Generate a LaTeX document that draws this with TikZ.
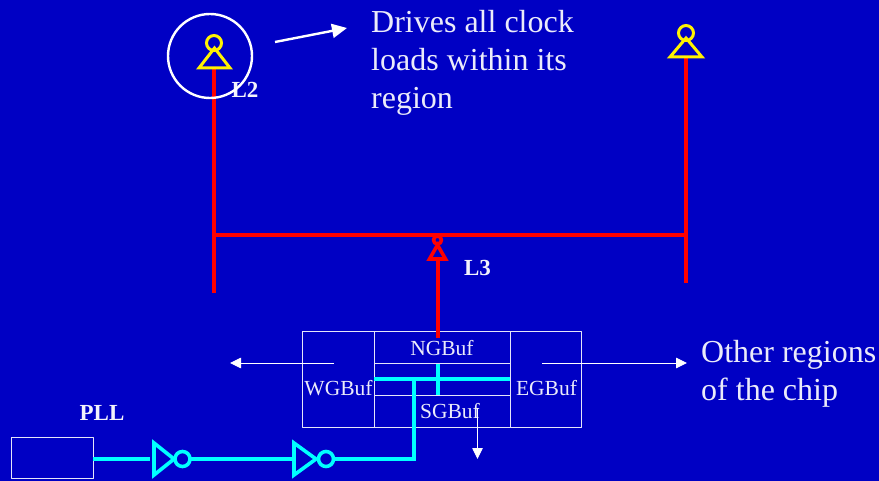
\documentclass[tikz,border=0pt]{standalone}
\usepackage{fontspec}
\setmainfont{Liberation Serif}
\usetikzlibrary{arrows.meta}
\definecolor{slidebg}{RGB}{0,0,196}
\definecolor{wirecyan}{RGB}{0,255,255}
\tikzset{
	redwire/.style={draw=red,line width=4pt},
	cyanwire/.style={draw=wirecyan,line width=4pt},
	yellowbuf/.style={draw=yellow,line width=3pt,line join=miter},
	redbuf/.style={draw=red,line width=3.6pt},
	invbuf/.style={draw=wirecyan,line width=3.6pt},
	bubble/.style={circle,inner sep=0pt,outer sep=0pt,minimum size=#1},
	gridbox/.style={draw=white!90!slidebg,line width=0.9pt,inner sep=0pt,outer sep=0pt},
	thinarrow/.style={draw=white,line width=0.9pt,-{Triangle[length=11pt,width=10.5pt]}},
	bigtext/.style={text=white!92!slidebg,font=\fontsize{32}{38}\selectfont,align=left,anchor=north west,inner sep=0pt},
	buftext/.style={text=white!92!slidebg,font=\fontsize{21.5}{24}\selectfont,inner sep=0pt},
	boldtext/.style={text=white!95!slidebg,font=\fontsize{23}{28}\selectfont\bfseries,inner sep=0pt},
}
\begin{document}
\begin{tikzpicture}[x=1pt,y=-1pt,>=stealth,line join=round]
	\fill[slidebg] (0,0) rectangle (879,481);
	\useasboundingbox (0,0) rectangle (879,481);
	% boxes
	\node[gridbox,minimum width=72pt,minimum height=96pt] (wgbox) at (338,379) {};
	\node[gridbox,minimum width=136pt,minimum height=96pt] (cbox) at (442,379) {};
	\node[gridbox,minimum width=71pt,minimum height=96pt] (egbox) at (545.5,379) {};
	\node[gridbox,minimum width=136pt,minimum height=32pt] (midbox) at (442,379) {};
	\node[gridbox,minimum width=82pt,minimum height=41pt] (pllbox) at (52,457.5) {};
	\node[buftext] (ngbuf) at (442,348) {NGBuf};
	\node[buftext] (wgbuf) at (338.5,388) {WGBuf};
	\node[buftext] (egbuf) at (546.5,388) {EGBuf};
	\node[buftext] (sgbuf) at (450,411) {SGBuf};
	\node[boldtext] (ltwo) at (245,90) {L2};
	\node[boldtext] (lthree) at (477.5,268) {L3};
	\node[boldtext] (plllab) at (102,413) {PLL};
	\node[bigtext] (drives) at (371,10) {Drives all clock\\loads within its\\region};
	\node[bigtext] (other) at (701,340) {Other regions\\of the chip};
	% red tree
	\coordinate (ltop) at (214,68);
	\coordinate (lbot) at (214,293);
	\coordinate (rtop) at (686,57);
	\coordinate (rbot) at (686,283);
	\coordinate (hleft) at (214,235);
	\coordinate (hright) at (686,235);
	\coordinate (bufin) at (437.5,259);
	\coordinate (bufout) at (437.5,338);
	\draw[redwire] (ltop)--(lbot);
	\draw[redwire] (rtop)--(rbot);
	\draw[redwire] (hleft)--(hright);
	\draw[redwire] (bufin)--(bufout);
	% buffers on the tree
	\draw[yellowbuf] (199,68)--(230,68)--(214.5,48)--cycle;
	\node[bubble=15pt,yellowbuf] (lring) at (214,43) {};
	\draw[yellowbuf] (670,57)--(702,57)--(686,38)--cycle;
	\node[bubble=15pt,yellowbuf] (rring) at (686,33) {};
	\draw[redbuf,line join=miter] (429.5,259)--(445.5,259)--(437.5,245)--cycle;
	\node[bubble=8pt,redbuf] (bring) at (437.5,240) {};
	\node[bubble=84pt,draw=white,line width=2.4pt] (halo) at (210,56) {};
	\coordinate (drivesfrom) at (275,42);
	\coordinate (drivesto) at (347,28);
	\draw[white,line width=2.4pt,-{Triangle[length=15pt,width=14pt]}] (drivesfrom)--(drivesto);
	% global buffers
	\coordinate (wfrom) at (334,363);
	\coordinate (wto) at (230,363);
	\coordinate (efrom) at (542,363);
	\coordinate (eto) at (687,363);
	\coordinate (sfrom) at (477.5,408);
	\coordinate (sto) at (477.5,459);
	\draw[thinarrow] (wfrom)--(wto);
	\draw[thinarrow] (efrom)--(eto);
	\draw[thinarrow] (sfrom)--(sto);
	\coordinate (ewest) at (374,379);
	\coordinate (eeast) at (510,379);
	\coordinate (ntap) at (437.5,364);
	\coordinate (stap) at (437.5,395);
	\coordinate (jn) at (414,379);
	\coordinate (jc) at (414,459);
	\draw[cyanwire] (ewest)--(eeast);
	\draw[cyanwire] (ntap)--(stap);
	% inverters
	\foreach \x/\n/\w/\r in {154/a/20/28.5,294/b/22/32}{
		\draw[invbuf,line join=miter] (\x,443)--(\x,475)--(\x+\w,459)--cycle;
		\node[bubble=15pt,invbuf] (ring\n) at (\x+\r,459) {};
		\coordinate (in\n) at (\x,459);
	}
	\draw[cyanwire] (pllbox.east|-ina)--(150,459);
	\draw[cyanwire] (ringa.east)--(inb);
	\draw[cyanwire,line join=miter] (ringb.east)--(jc)--(jn);
\end{tikzpicture}
\end{document}
